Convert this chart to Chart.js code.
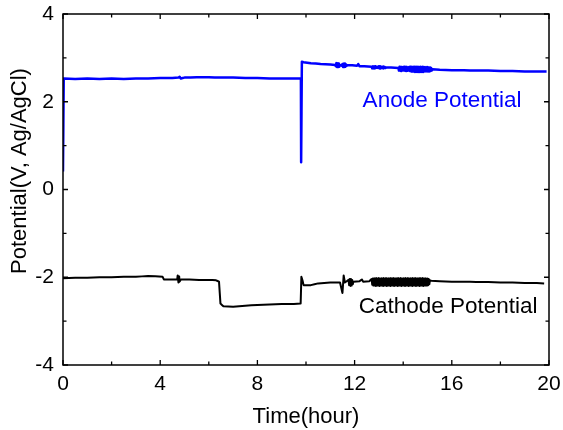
<!DOCTYPE html>
<html>
<head>
<meta charset="utf-8">
<script src="https://cdn.jsdelivr.net/npm/chart.js@4/dist/chart.umd.min.js"></script>
<style>
html,body{margin:0;padding:0;background:#fff;}
#wrap{width:563px;height:430px;position:relative;}
</style>
</head>
<body>
<div id="wrap"><canvas id="c" width="563" height="430"></canvas></div>
<script>
// ---- data ----
const xTicks = [0, 4, 8, 12, 16, 20];
const yTicks = [-4, -2, 0, 2, 4];
const xMinor = [2, 6, 10, 14, 18];
const yMinor = [-3, -1, 1, 3];

const anodeTime = [
  0, 0.03, 0.5, 1, 1.5, 2, 2.5, 3, 3.5, 4,
  4.5, 4.75, 4.8, 4.85, 5, 5.5, 6, 6.5, 7, 7.5,
  8, 8.5, 9, 9.5, 9.79, 9.8, 9.83, 9.9, 10.2, 10.6,
  11.0, 11.2, 11.225, 11.25, 11.275, 11.3, 11.325, 11.35, 11.375, 11.4,
  11.425, 11.45, 11.475, 11.5, 11.525, 11.55, 11.575, 11.6, 11.625, 11.65,
  11.675, 11.7, 11.9, 12.1, 12.15, 12.2, 12.4, 12.7, 12.725, 12.75,
  12.775, 12.8, 12.825, 12.85, 12.875, 12.9, 12.925, 12.95, 12.975, 13.0,
  13.025, 13.05, 13.075, 13.1, 13.125, 13.15, 13.175, 13.2, 13.225, 13.25,
  13.275, 13.3, 13.5, 13.8, 13.825, 13.85, 13.875, 13.9, 13.925, 13.95,
  13.975, 14.0, 14.025, 14.05, 14.075, 14.1, 14.125, 14.15, 14.175, 14.2,
  14.225, 14.25, 14.275, 14.3, 14.325, 14.35, 14.375, 14.4, 14.425, 14.45,
  14.475, 14.5, 14.525, 14.55, 14.575, 14.6, 14.625, 14.65, 14.675, 14.7,
  14.725, 14.75, 14.775, 14.8, 14.825, 14.85, 14.875, 14.9, 14.925, 14.95,
  14.975, 15.0, 15.025, 15.05, 15.075, 15.1, 15.125, 15.15, 15.175, 15.2,
  15.5, 16, 16.5, 17, 17.5, 18, 18.5, 19, 19.5, 19.9
];
const anodeV = [
  0.41, 2.53, 2.52, 2.53, 2.52, 2.53, 2.52, 2.53, 2.53, 2.54,
  2.54, 2.55, 2.57, 2.53, 2.55, 2.56, 2.56, 2.55, 2.55, 2.54,
  2.54, 2.53, 2.53, 2.53, 2.53, 0.62, 2.91, 2.90, 2.88, 2.86,
  2.85, 2.84, 2.81, 2.88, 2.79, 2.88, 2.79, 2.87, 2.80, 2.84,
  2.83, 2.83, 2.82, 2.86, 2.79, 2.87, 2.79, 2.87, 2.80, 2.85,
  2.82, 2.83, 2.83, 2.82, 2.86, 2.81, 2.81, 2.80, 2.76, 2.81,
  2.76, 2.81, 2.76, 2.81, 2.77, 2.80, 2.77, 2.80, 2.77, 2.81,
  2.76, 2.81, 2.76, 2.80, 2.77, 2.80, 2.76, 2.80, 2.77, 2.79,
  2.77, 2.78, 2.78, 2.77, 2.71, 2.80, 2.70, 2.80, 2.70, 2.79,
  2.71, 2.79, 2.71, 2.80, 2.70, 2.80, 2.70, 2.79, 2.71, 2.78,
  2.71, 2.79, 2.70, 2.80, 2.69, 2.80, 2.69, 2.79, 2.69, 2.80,
  2.68, 2.80, 2.68, 2.80, 2.68, 2.80, 2.68, 2.79, 2.68, 2.80,
  2.68, 2.79, 2.68, 2.80, 2.68, 2.79, 2.69, 2.79, 2.69, 2.79,
  2.69, 2.79, 2.69, 2.78, 2.69, 2.78, 2.70, 2.77, 2.71, 2.74,
  2.73, 2.72, 2.72, 2.71, 2.71, 2.70, 2.70, 2.69, 2.69, 2.69
];

const cathodeTime = [
  0, 0.5, 1, 1.5, 2, 2.5, 3, 3.5, 4.1, 4.15,
  4.5, 4.7, 4.72, 4.75, 4.78, 4.8, 4.85, 5.2, 5.6, 6.0,
  6.3, 6.42, 6.48, 6.6, 7.0, 7.5, 8.0, 8.5, 9.0, 9.5,
  9.78, 9.81, 9.86, 9.9, 10.2, 10.5, 11.0, 11.4, 11.5, 11.55,
  11.6, 11.75, 11.775, 11.8, 11.825, 11.85, 11.875, 11.9, 11.925, 11.95,
  12.2, 12.3, 12.35, 12.6,
  12.700, 12.725, 12.750, 12.775, 12.800, 12.825, 12.850, 12.875, 12.900, 12.925,
  12.950, 12.975, 13.000, 13.025, 13.050, 13.075, 13.100, 13.125, 13.150, 13.175,
  13.200, 13.225, 13.250, 13.275, 13.300, 13.325, 13.350, 13.375, 13.400, 13.425,
  13.450, 13.475, 13.500, 13.525, 13.550, 13.575, 13.600, 13.625, 13.650, 13.675,
  13.700, 13.725, 13.750, 13.775, 13.800, 13.825, 13.850, 13.875, 13.900, 13.925,
  13.950, 13.975, 14.000, 14.025, 14.050, 14.075, 14.100, 14.125, 14.150, 14.175,
  14.200, 14.225, 14.250, 14.275, 14.300, 14.325, 14.350, 14.375, 14.400, 14.425,
  14.450, 14.475, 14.500, 14.525, 14.550, 14.575, 14.600, 14.625, 14.650, 14.675,
  14.700, 14.725, 14.750, 14.775, 14.800, 14.825, 14.850, 14.875, 14.900, 14.925,
  14.950, 14.975, 15.000, 15.025, 15.050, 15.075, 15.100,
  15.15, 15.5, 16, 16.5, 17, 17.5, 18, 18.5, 19, 19.5, 19.8
];
const cathodeV = [
  -2.02, -2.01, -2.01, -2.00, -2.00, -1.99, -1.99, -1.97, -1.99, -2.05,
  -2.05, -2.05, -1.96, -2.12, -1.98, -2.10, -2.05, -2.05, -2.06, -2.06,
  -2.07, -2.10, -2.60, -2.66, -2.67, -2.65, -2.63, -2.62, -2.61, -2.61,
  -2.60, -1.99, -2.08, -2.18, -2.18, -2.14, -2.12, -2.12, -2.36, -1.96,
  -2.12, -2.06, -2.18, -2.04, -2.20, -2.04, -2.19, -2.06, -2.16, -2.10,
  -2.09, -2.05, -2.10, -2.09,
  -2.04, -2.17, -2.03, -2.19, -2.02, -2.19, -2.03, -2.20, -2.02, -2.19,
  -2.03, -2.19, -2.02, -2.20, -2.03, -2.19, -2.02, -2.19, -2.03, -2.20,
  -2.02, -2.19, -2.03, -2.19, -2.02, -2.20, -2.03, -2.19, -2.02, -2.19,
  -2.03, -2.20, -2.02, -2.19, -2.03, -2.19, -2.02, -2.20, -2.03, -2.19,
  -2.02, -2.19, -2.03, -2.20, -2.02, -2.19, -2.03, -2.19, -2.02, -2.20,
  -2.03, -2.19, -2.02, -2.19, -2.03, -2.20, -2.02, -2.19, -2.03, -2.19,
  -2.02, -2.20, -2.03, -2.19, -2.02, -2.19, -2.03, -2.20, -2.02, -2.19,
  -2.03, -2.19, -2.02, -2.20, -2.03, -2.19, -2.02, -2.19, -2.03, -2.20,
  -2.02, -2.19, -2.03, -2.19, -2.02, -2.20, -2.03, -2.19, -2.02, -2.19,
  -2.03, -2.19, -2.03, -2.18, -2.04, -2.16, -2.07,
  -2.08, -2.09, -2.10, -2.10, -2.11, -2.11, -2.12, -2.12, -2.13, -2.13, -2.14
];

const xTitle = 'Time(hour)';
const yTitle = 'Potential(V, Ag/AgCl)';
const seriesNames = ['Anode Potential', 'Cathode Potential'];

// ---- chart ----
const FONT = "'Liberation Sans', Arial, sans-serif";
const toXY = (xs, ys) => xs.map((x, i) => ({x: x, y: ys[i]}));

const framePlugin = {
  id: 'frame',
  afterDraw(chart) {
    const ctx = chart.ctx;
    const xs = chart.scales.x, ys = chart.scales.y;
    const L = xs.left, R = xs.right, T = ys.top, B = ys.bottom;
    ctx.save();
    ctx.strokeStyle = '#000';
    ctx.lineWidth = 1.5;
    ctx.strokeRect(L, T, R - L, B - T);
    ctx.lineWidth = 1.3;
    const tick = (vals, len) => {
      vals.forEach(v => {
        const px = xs.getPixelForValue(v);
        ctx.beginPath();
        ctx.moveTo(px, B); ctx.lineTo(px, B - len);
        ctx.moveTo(px, T); ctx.lineTo(px, T + len);
        ctx.stroke();
      });
    };
    const tickY = (vals, len) => {
      vals.forEach(v => {
        const py = ys.getPixelForValue(v);
        ctx.beginPath();
        ctx.moveTo(L, py); ctx.lineTo(L + len, py);
        ctx.moveTo(R, py); ctx.lineTo(R - len, py);
        ctx.stroke();
      });
    };
    tick(xTicks, 5); tick(xMinor, 3.5);
    tickY(yTicks, 5); tickY(yMinor, 3.5);

    // y axis title
    ctx.font = '22px ' + FONT;
    ctx.fillStyle = '#000';
    ctx.textAlign = 'center';
    ctx.textBaseline = 'alphabetic';
    ctx.translate(26, 171);
    ctx.rotate(-Math.PI / 2);
    ctx.fillText(yTitle, 0, 0);
    ctx.restore();

    // series labels
    ctx.save();
    ctx.font = '22.5px ' + FONT;
    ctx.textAlign = 'left';
    ctx.textBaseline = 'alphabetic';
    ctx.fillStyle = '#0000ff';
    ctx.fillText(seriesNames[0], xs.getPixelForValue(12.33), ys.getPixelForValue(1.89));
    ctx.fillStyle = '#000';
    ctx.fillText(seriesNames[1], xs.getPixelForValue(12.17), ys.getPixelForValue(-2.82));
    ctx.restore();
  }
};

new Chart(document.getElementById('c'), {
  type: 'line',
  data: {
    datasets: [
      {label: seriesNames[0], data: toXY(anodeTime, anodeV), borderColor: '#0000ff',
       borderWidth: 2.5, pointRadius: 0, tension: 0.0001, fill: false, borderJoinStyle: 'round'},
      {label: seriesNames[1], data: toXY(cathodeTime, cathodeV), borderColor: '#000000',
       borderWidth: 2, pointRadius: 0, tension: 0.0001, fill: false, borderJoinStyle: 'round'}
    ]
  },
  options: {
    responsive: false,
    animation: false,
    layout: {padding: {top: 14, right: 14, left: 0, bottom: 0}},
    plugins: {legend: {display: false}, tooltip: {enabled: false}},
    scales: {
      x: {
        type: 'linear', min: 0, max: 20,
        afterBuildTicks: s => { s.ticks = xTicks.map(v => ({value: v})); },
        ticks: {color: '#000', font: {family: FONT, size: 21}, padding: 7, maxRotation: 0},
        grid: {display: false, drawTicks: false},
        border: {display: false},
        title: {display: true, text: xTitle, color: '#000', font: {family: FONT, size: 22}, padding: {top: 2, bottom: 0}},
        afterFit: s => { s.height = 65; s.paddingLeft = 0; s.paddingRight = 0; }
      },
      y: {
        type: 'linear', min: -4, max: 4,
        afterBuildTicks: s => { s.ticks = yTicks.map(v => ({value: v})); },
        ticks: {color: '#000', font: {family: FONT, size: 21}, padding: 9},
        grid: {display: false, drawTicks: false},
        border: {display: false},
        afterFit: s => { s.width = 63; s.paddingTop = 0; s.paddingBottom = 0; }
      }
    }
  },
  plugins: [framePlugin]
});
</script>
</body>
</html>
